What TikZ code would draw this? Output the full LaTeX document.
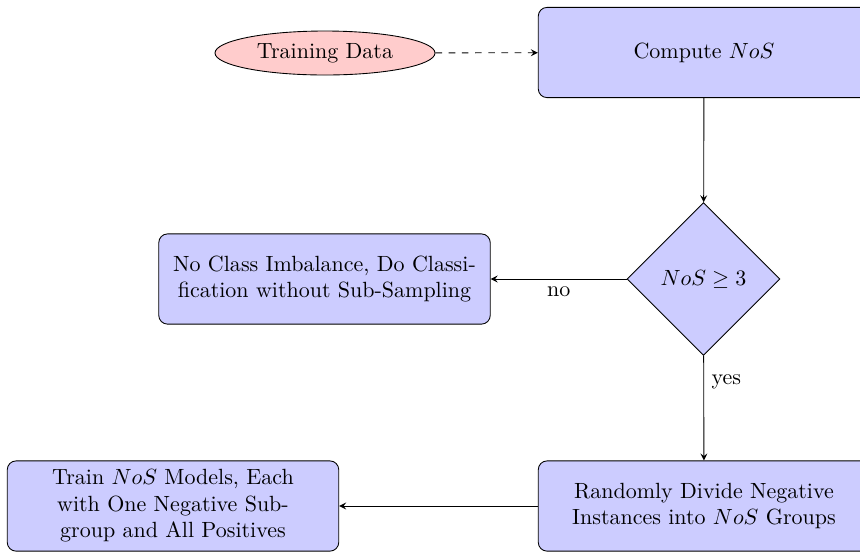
\documentclass[tikz,border=0pt]{standalone}
\usetikzlibrary{shapes.geometric,arrows}
\begin{document}
\begin{tikzpicture}[x=0.4545pt,y=-0.4545pt,
  blockbox/.style={rectangle, draw, fill=blue!20, text width=144pt, align=center,
    rounded corners, minimum height=41pt, inner sep=3.33pt},
  decisionbox/.style={diamond, draw, fill=blue!20, aspect=1, inner sep=1pt,
    minimum width=69.5pt, minimum height=69.5pt},
  databox/.style={ellipse, draw, fill=red!20, minimum width=100pt, minimum height=20pt, inner sep=1pt},
  conn/.style={draw, -stealth},
  dconn/.style={draw, dashed, -stealth}]
\useasboundingbox (0,0) rectangle (860,552);
\node[databox] (data) at (325,53) {Training Data};
\node[blockbox] (compute) at (704,52.5) {Compute $NoS$};
\node[decisionbox] (dec) at (703.5,279) {$NoS \geq 3$};
\node[blockbox] (noimb) at (324.5,279) {No Class Imbalance, Do Classi-\\fication without Sub-Sampling};
\node[blockbox] (divide) at (704,506) {Randomly Divide Negative\\Instances into $NoS$ Groups};
\node[blockbox] (train) at (173,506) {Train $NoS$ Models, Each\\with One Negative Sub-\\group and All Positives};
\draw[dconn] (data) -- (compute);
\draw[conn] (compute) -- (dec);
\draw[conn] (dec) -- node[below] {no} (noimb);
\draw[conn] (dec) -- node[right, pos=0.25] {yes} (divide);
\draw[conn] (divide) -- (train);
\end{tikzpicture}
\end{document}
